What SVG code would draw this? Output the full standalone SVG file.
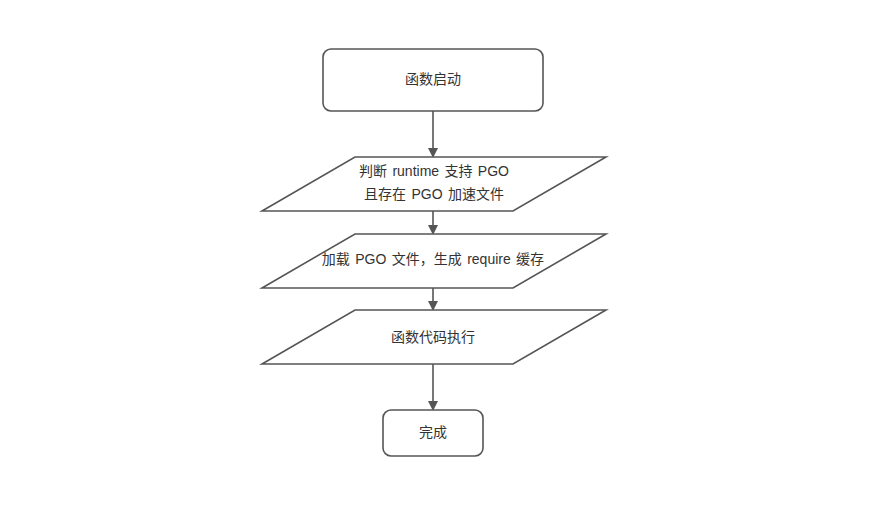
<svg xmlns="http://www.w3.org/2000/svg" width="886" height="506" viewBox="0 0 886 506">
<style>
.s{fill:#fff;stroke:#555;stroke-width:1.6}
.t{font-family:"Liberation Sans","Noto Sans CJK SC",sans-serif;font-size:14px;fill:#333;text-anchor:middle;dominant-baseline:central;word-spacing:1.5px}
.c{stroke:#555;stroke-width:1.6;fill:none}
</style>
<defs>
<marker id="a" markerWidth="10" markerHeight="10" refX="8" refY="5" orient="auto" markerUnits="userSpaceOnUse">
<path d="M0,0 L10,5 L0,10 z" fill="#555"/>
</marker>
</defs>
<rect width="886" height="506" fill="#fff"/>
<g id="connectors">
<line class="c" x1="433" y1="111" x2="433" y2="156" marker-end="url(#a)"/>
<line class="c" x1="433" y1="211" x2="433" y2="233" marker-end="url(#a)"/>
<line class="c" x1="433" y1="288" x2="433" y2="309" marker-end="url(#a)"/>
<line class="c" x1="433" y1="364" x2="433" y2="409" marker-end="url(#a)"/>
</g>
<g id="start">
<rect class="s" x="323" y="49" width="220" height="62" rx="8"/>
<text class="t" x="433" y="79">函数启动</text>
</g>
<g id="check">
<polygon class="s" points="355,157 606,157 513,211 262,211"/>
<text class="t" x="434" y="171">判断 runtime 支持 PGO</text>
<text class="t" x="434" y="194">且存在 PGO 加速文件</text>
</g>
<g id="load">
<polygon class="s" points="355,234 606,234 513,288 262,288"/>
<text class="t" x="433" y="259">加载 PGO 文件，生成 require 缓存</text>
</g>
<g id="exec">
<polygon class="s" points="355,310 606,310 513,364 262,364"/>
<text class="t" x="433" y="337">函数代码执行</text>
</g>
<g id="done">
<rect class="s" x="383" y="410" width="100" height="46" rx="8"/>
<text class="t" x="433" y="432">完成</text>
</g>
</svg>
